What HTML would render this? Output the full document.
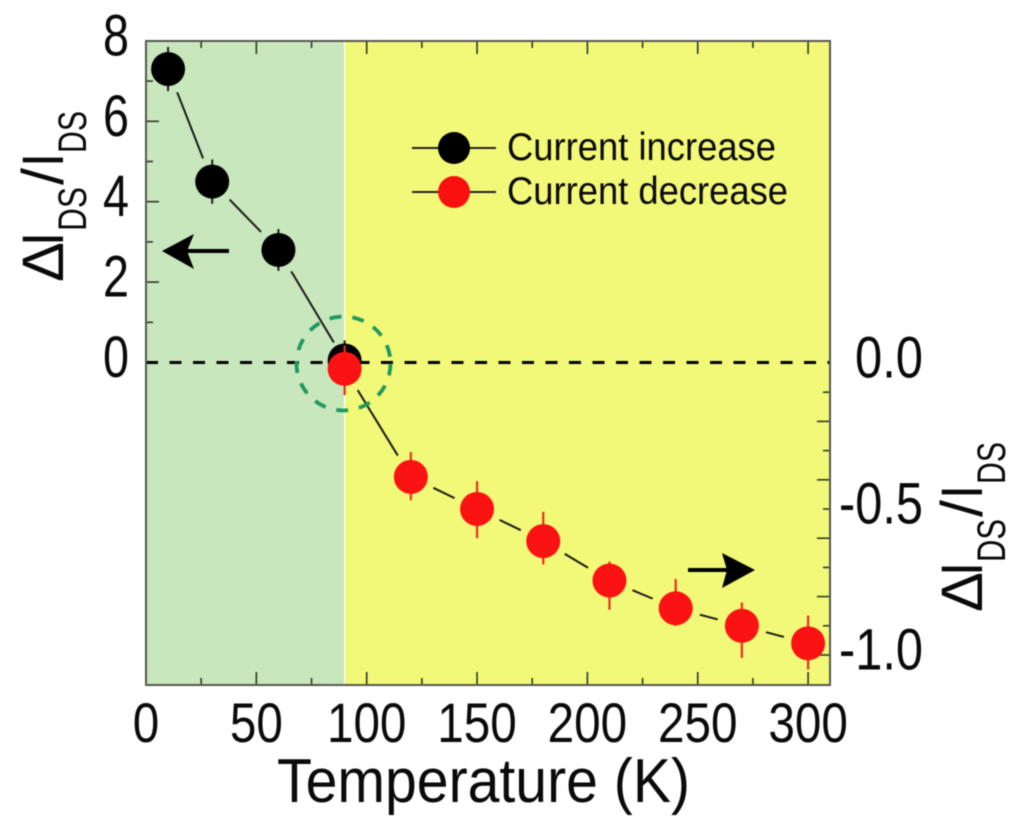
<!DOCTYPE html>
<html lang="en">
<head>
<meta charset="utf-8">
<title>Current change vs temperature</title>
<style>
html,body{margin:0;padding:0;background:#fff;width:1024px;height:833px;overflow:hidden}
svg{display:block;filter:blur(0.6px)}
text{font-family:"Liberation Sans",sans-serif;fill:#0a0a0a}
</style>
</head>
<body>
<svg id="chart" xmlns="http://www.w3.org/2000/svg" width="1024" height="833" viewBox="0 0 1024 833">
  <rect width="1024" height="833" fill="#fff"/>
  <g id="regions"></g>
  <g id="ticks"></g>
  <g id="tickLabels"></g>
  <g id="series"></g>
  <circle cx="343.5" cy="363.5" r="47" fill="none" stroke="#1f9a5c" stroke-width="3.8" stroke-dasharray="12 11"/>
  <g>
    <line x1="229" y1="251" x2="185" y2="251" stroke="#000" stroke-width="4"/>
    <polygon points="162,251 194,234 187,251 194,269" fill="#000"/>
  </g>
  <g>
    <line x1="688" y1="570" x2="735" y2="570" stroke="#000" stroke-width="4"/>
    <polygon points="755,570 722,553 727,570 722,588" fill="#000"/>
  </g>
  <g>
    <g>
      <line x1="412" y1="148" x2="496" y2="148" stroke="#222" stroke-width="2"/>
      <circle cx="454" cy="148" r="16" fill="#000"/>
      <text x="507" y="160" font-size="39" textLength="269" lengthAdjust="spacingAndGlyphs">Current increase</text>
    </g>
    <g>
      <line x1="412" y1="192" x2="496" y2="192" stroke="#222" stroke-width="2"/>
      <circle cx="454" cy="192" r="16" fill="#fb1010"/>
      <text x="507" y="204" font-size="39" textLength="281" lengthAdjust="spacingAndGlyphs">Current decrease</text>
    </g>
  </g>
  <text x="277" y="802" font-size="62" textLength="413" lengthAdjust="spacingAndGlyphs">Temperature (K)</text>
  <g transform="translate(63,282) rotate(-90)">
    <text x="0" y="0" font-size="58" textLength="40" lengthAdjust="spacingAndGlyphs">Δ</text>
    <text x="36" y="0" font-size="58" textLength="14" lengthAdjust="spacingAndGlyphs">I</text>
    <text x="51" y="23" font-size="40" textLength="44" lengthAdjust="spacingAndGlyphs">DS</text>
    <text x="97" y="0" font-size="58" textLength="17" lengthAdjust="spacingAndGlyphs">/</text>
    <text x="115" y="0" font-size="58" textLength="14" lengthAdjust="spacingAndGlyphs">I</text>
    <text x="129" y="23" font-size="40" textLength="42" lengthAdjust="spacingAndGlyphs">DS</text>
  </g>
  <g transform="translate(982,612) rotate(-90)">
    <text x="0" y="0" font-size="58" textLength="40" lengthAdjust="spacingAndGlyphs">Δ</text>
    <text x="36" y="0" font-size="58" textLength="14" lengthAdjust="spacingAndGlyphs">I</text>
    <text x="50" y="23" font-size="40" textLength="43" lengthAdjust="spacingAndGlyphs">DS</text>
    <text x="95" y="0" font-size="58" textLength="17" lengthAdjust="spacingAndGlyphs">/</text>
    <text x="113" y="0" font-size="58" textLength="14" lengthAdjust="spacingAndGlyphs">I</text>
    <text x="128" y="23" font-size="40" textLength="42" lengthAdjust="spacingAndGlyphs">DS</text>
  </g>
</svg>
<script>
var blackTemps = [10, 30, 60, 90];
var blackValues = [7.3, 4.5, 2.8, 0.05];
var blackErrors = [0.55, 0.55, 0.52, 0.5];
var redTemps = [90, 120, 150, 180, 210, 240, 270, 300];
var redValues = [-0.02, -0.39, -0.50, -0.61, -0.745, -0.84, -0.90, -0.96];
var redErrorsUp = [0.08, 0.085, 0.095, 0.10, 0.065, 0.10, 0.08, 0.095];
var redErrorsDown = [0.09, 0.08, 0.10, 0.08, 0.10, 0.06, 0.11, 0.09];
var xTickLabels = [0, 50, 100, 150, 200, 250, 300];
var leftTickLabels = [0, 2, 4, 6, 8];
var rightTickLabels = ["0.0", "-0.5", "-1.0"];
var rightTickValues = [0, -0.5, -1];
var crossoverTemp = 90;

function xScale(v){ return 146 + 2.207 * v; }
function yLeft(v){ return 362.5 - 40.2 * v; }
function yRight(v){ return 363 - 292 * v; }

var NS = 'http://www.w3.org/2000/svg';
function make(parent, tag, attrs){
  var el = document.createElementNS(NS, tag);
  for (var k in attrs) el.setAttribute(k, attrs[k]);
  parent.appendChild(el);
  return el;
}

var PLOT_L = 146, PLOT_R = 830, PLOT_T = 41, PLOT_B = 685;
var regions = document.getElementById('regions');
var ticks = document.getElementById('ticks');
var tickLabels = document.getElementById('tickLabels');
var series = document.getElementById('series');

var splitX = xScale(crossoverTemp);
var greenRect = make(regions, 'rect', {x: PLOT_L, y: PLOT_T, width: splitX - PLOT_L, height: PLOT_B - PLOT_T, fill: '#c8e7bd'});


var yellowRect = make(regions, 'rect', {x: splitX, y: PLOT_T, width: PLOT_R - splitX, height: PLOT_B - PLOT_T, fill: '#f2f877'});


var divider = make(regions, 'line', {x1: splitX, x2: splitX, y1: PLOT_T, y2: PLOT_B, stroke: '#fbfbf0', 'stroke-width': 1.5});



var zeroLine = make(regions, 'line', {x1: PLOT_L, x2: PLOT_R, y1: yLeft(0), y2: yLeft(0), stroke: '#000', 'stroke-width': 3, 'stroke-dasharray': '12 11.5'});



var TICK_COLOR = '#2c3a24';
var i, t, v, len;
for (t = 25; t <= 300; t += 25) {
  len = t % 50 === 0 ? 13 : 7;
  var bottomTick = make(ticks, 'line', {x1: xScale(t), x2: xScale(t), y1: PLOT_B, y2: PLOT_B - len, stroke: TICK_COLOR, 'stroke-width': 1.6});
  
  
  var topTick = make(ticks, 'line', {x1: xScale(t), x2: xScale(t), y1: PLOT_T, y2: PLOT_T + len, stroke: TICK_COLOR, 'stroke-width': 1.6});
  
  
}
for (v = 1; v <= 7; v += 1) {
  len = v % 2 === 0 ? 13 : 7;
  var leftTick = make(ticks, 'line', {x1: PLOT_L, x2: PLOT_L + len, y1: yLeft(v), y2: yLeft(v), stroke: TICK_COLOR, 'stroke-width': 1.6});
  
  
}
for (i = 1; i <= 10; i += 1) {
  len = i % 2 === 0 ? 13 : 7;
  var rightTick = make(ticks, 'line', {x1: PLOT_R, x2: PLOT_R - len, y1: yRight(-i / 10), y2: yRight(-i / 10), stroke: TICK_COLOR, 'stroke-width': 1.6});
  
  
}
var frame = make(ticks, 'rect', {x: PLOT_L, y: PLOT_T, width: PLOT_R - PLOT_L, height: PLOT_B - PLOT_T, fill: 'none', stroke: '#55584e', 'stroke-width': 2});



function addLabel(str, x, y, w, anchor, size){
  var el = make(tickLabels, 'text', {x: x, y: y, 'font-size': size, textLength: w, lengthAdjust: 'spacingAndGlyphs', 'text-anchor': anchor});
  el.textContent = str;
  return el;
}
xTickLabels.forEach(function(val){
  var s = String(val);
  var xLabel = addLabel(s, xScale(val), 742, s.length * 26.5, 'middle', 56);
  
  
});
leftTickLabels.forEach(function(val){
  var leftLabel = addLabel(String(val), 129, yLeft(val) + 14.5, 26, 'end', 58);
  
  
});
rightTickLabels.forEach(function(s, idx){
  var w = s.length === 3 ? 68 : 84;
  var rightLabel = addLabel(s, 923, yRight(rightTickValues[idx]) + 14.5, w, 'end', 58);
  
  
});

function connector(x1, y1, x2, y2, gapStart, gapEnd){
  var dx = x2 - x1, dy = y2 - y1, d = Math.sqrt(dx * dx + dy * dy);
  if (d <= gapStart + gapEnd) return;
  var seg = make(series, 'line', {
    x1: x1 + dx * gapStart / d, y1: y1 + dy * gapStart / d,
    x2: x2 - dx * gapEnd / d, y2: y2 - dy * gapEnd / d,
    stroke: '#1a1a1a', 'stroke-width': 2
  });
  
  
}

for (i = 0; i < blackTemps.length - 1; i += 1) {
  connector(xScale(blackTemps[i]), yLeft(blackValues[i]), xScale(blackTemps[i + 1]), yLeft(blackValues[i + 1]), 25, i === blackTemps.length - 2 ? 21 : 25);
}
for (i = 0; i < redTemps.length - 1; i += 1) {
  connector(xScale(redTemps[i]), yRight(redValues[i]), xScale(redTemps[i + 1]), yRight(redValues[i + 1]), 25, 25);
}

blackTemps.forEach(function(temp, idx){
  var bx = xScale(temp), by = yLeft(blackValues[idx]);
  var blackBar = make(series, 'line', {x1: bx, x2: bx, y1: yLeft(blackValues[idx] + blackErrors[idx]), y2: yLeft(blackValues[idx] - blackErrors[idx]), stroke: '#1a1a1a', 'stroke-width': 2});
  
  
  var blackDot = make(series, 'circle', {cx: bx, cy: by, r: 17, fill: '#000'});
  
  
});
redTemps.forEach(function(temp, idx){
  var rx = xScale(temp), ry = yRight(redValues[idx]);
  var redBar = make(series, 'line', {x1: rx, x2: rx, y1: yRight(redValues[idx] + redErrorsUp[idx]), y2: yRight(redValues[idx] - redErrorsDown[idx]), stroke: '#e8301c', 'stroke-width': 2.2});
  
  
  var redDot = make(series, 'circle', {cx: rx, cy: ry, r: 17, fill: '#fb1212'});
  
  
});
</script>
</body>
</html>
